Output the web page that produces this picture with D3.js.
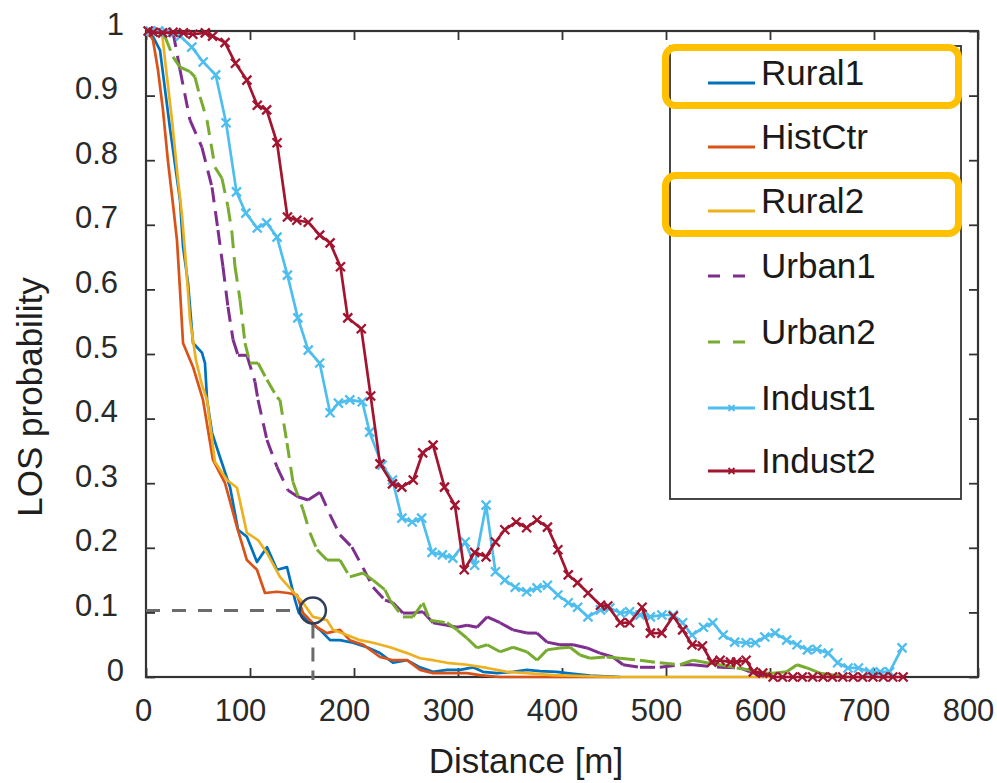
<!DOCTYPE html>
<html>
<head>
<meta charset="utf-8">
<script src="https://cdn.jsdelivr.net/npm/d3@7"></script>
<style>
  html,body{margin:0;padding:0;background:#fff;}
  svg{display:block;}
  text{font-family:"Liberation Sans", Arial, sans-serif;}
</style>
</head>
<body>
<script>
// ---------- DATA ----------
const xTicks = [0,100,200,300,400,500,600,700,800];
const xTickLabels = ["0","100","200","300","400","500","600","700","800"];
const yTicks = [0,0.1,0.2,0.3,0.4,0.5,0.6,0.7,0.8,0.9,1];
const yTickLabels = ["0","0.1","0.2","0.3","0.4","0.5","0.6","0.7","0.8","0.9","1"];
const seriesNames = ["Rural1","HistCtr","Rural2","Urban1","Urban2","Indust1","Indust2"];

const rural1 = [[0,1],[4,1],[13.5,0.97],[23,0.85],[32.7,0.738],[35.6,0.666],[40.4,0.61],[45.2,0.517],[53.8,0.502],[56.7,0.486],[58.7,0.429],[63.5,0.378],[71,0.341],[80.8,0.294],[88.5,0.228],[97,0.217],[106.7,0.178],[116.3,0.201],[126,0.166],[135.6,0.17],[143.3,0.119],[147,0.099],[157.7,0.085],[167.3,0.073],[177,0.057],[186.5,0.057],[199,0.053],[212.5,0.046],[225,0.037],[237.5,0.022],[251,0.026],[263.5,0.015],[276,0.008],[289.4,0.011],[302,0.011],[314.4,0.015],[324,0.008],[337.5,0.006],[353,0.008],[366.3,0.011],[378.8,0.009],[395,0.008],[404.8,0.006],[427,0.002],[456,0]];

const histCtr = [[0,1],[1.9,1],[6.7,0.986],[11.5,0.94],[16.3,0.878],[21,0.8],[26,0.731],[29.8,0.676],[32.7,0.599],[35.6,0.517],[45.2,0.48],[54.8,0.429],[64.4,0.336],[76,0.3],[87.5,0.232],[97,0.181],[106.7,0.166],[114.4,0.13],[126,0.132],[136.5,0.13],[145.2,0.127],[151,0.099],[164.4,0.077],[174,0.068],[186.5,0.073],[196,0.057],[208.7,0.05],[225,0.031],[237.5,0.026],[251,0.026],[263.5,0.011],[276,0.006],[289.4,0.006],[308.7,0.006],[321,0.003],[340,0],[451,0]];

const rural2 = [[0,1],[8.7,1],[15.4,0.997],[18.3,0.955],[25,0.862],[30.8,0.769],[34.6,0.715],[38.5,0.638],[42.3,0.553],[48,0.491],[53.8,0.452],[58.7,0.429],[66.3,0.333],[77.9,0.305],[87.5,0.293],[97,0.223],[107.7,0.212],[116.3,0.192],[128.8,0.155],[141.3,0.132],[151,0.115],[160.6,0.093],[174,0.088],[179.8,0.073],[193.3,0.065],[205.8,0.057],[218.3,0.053],[234.6,0.046],[251,0.037],[263.5,0.029],[276,0.026],[289.4,0.022],[308.7,0.019],[328,0.014],[347,0.008],[366,0.006],[391,0.003],[449,0],[600,0]];

const urban1 = [[0,1],[3.8,1],[26,0.998],[32.7,0.94],[42.3,0.862],[53.8,0.82],[63.5,0.758],[69.2,0.692],[74,0.635],[78.8,0.573],[83.7,0.522],[88.5,0.498],[97,0.498],[104.8,0.457],[107.7,0.429],[116.3,0.367],[126,0.325],[136.5,0.289],[146,0.279],[155.8,0.274],[167.3,0.286],[177,0.251],[186.5,0.22],[198,0.201],[208.7,0.169],[218.3,0.139],[229.8,0.119],[237.5,0.115],[247,0.099],[256.7,0.099],[266.3,0.101],[276,0.084],[289.4,0.08],[299,0.077],[308.7,0.08],[318.3,0.077],[328,0.093],[340.4,0.084],[352.9,0.073],[366.3,0.068],[376,0.068],[385.6,0.054],[398,0.05],[410.6,0.05],[424,0.045],[436.5,0.037],[449,0.031],[458.7,0.019],[475,0.015],[494,0.015],[513.5,0.019],[526,0.019],[552,0.015],[571,0.014],[580.8,0.008],[597,0]];

const urban2 = [[0,1],[3.8,1],[10.6,0.998],[18.3,0.991],[26,0.96],[32.7,0.944],[42.3,0.937],[47,0.929],[52,0.898],[58.7,0.862],[66.3,0.789],[73,0.772],[78.8,0.728],[82.7,0.687],[85.6,0.635],[90.4,0.584],[95.2,0.517],[100,0.486],[107.7,0.486],[116.3,0.46],[126,0.433],[128.8,0.429],[135.6,0.362],[141.3,0.302],[151,0.259],[157.7,0.223],[164.4,0.197],[174,0.181],[186.5,0.181],[196,0.155],[208.7,0.161],[218.3,0.15],[229.8,0.135],[234.6,0.119],[247,0.093],[256.7,0.093],[266.3,0.115],[273,0.088],[289.4,0.084],[299,0.073],[308.7,0.06],[318.3,0.045],[328,0.05],[340.4,0.039],[352.9,0.046],[366.3,0.039],[376,0.026],[385.6,0.042],[398,0.045],[407.7,0.046],[417.3,0.034],[427,0.029],[443,0.031],[455.8,0.029],[475,0.026],[494,0.022],[513.5,0.019],[526,0.026],[539.4,0.022],[552,0.019],[568,0.014],[580.8,0.011],[593,0.006],[603,0.006],[616,0.008],[626,0.019],[635.6,0.014],[648,0.006],[660.6,0.003],[674,0]];

const indust1 = [[4,1],[12,1],[20,0.998],[33,0.992],[44,0.975],[55,0.952],[67,0.932],[77,0.858],[87,0.751],[96,0.718],[107,0.695],[116,0.703],[126,0.681],[136,0.622],[146,0.556],[156,0.506],[167,0.486],[177,0.409],[185,0.424],[196,0.429],[208,0.426],[215,0.379],[227,0.328],[237,0.305],[246,0.246],[256,0.24],[265,0.246],[275,0.193],[285,0.189],[295,0.184],[307,0.209],[316,0.173],[327,0.266],[336,0.163],[345,0.15],[355,0.139],[366,0.132],[376,0.138],[386,0.142],[396,0.127],[406,0.115],[415,0.108],[425,0.093],[437,0.104],[446,0.107],[456,0.099],[465,0.101],[475,0.096],[485,0.093],[496,0.096],[507,0.096],[516,0.084],[525,0.065],[536,0.077],[545,0.084],[555,0.065],[566,0.054],[577,0.053],[586,0.053],[595,0.062],[605,0.068],[616,0.057],[626,0.05],[636,0.042],[645,0.043],[656,0.037],[665,0.022],[675,0.014],[685,0.014],[696,0.008],[706,0.008],[715,0.008],[727,0.045]];

const indust2 = [[2,1],[7,0.998],[16,0.997],[26,0.998],[36,0.997],[45,0.995],[57,0.997],[64,0.992],[76,0.982],[86,0.95],[97,0.924],[107,0.885],[116,0.878],[126,0.827],[136,0.712],[145,0.707],[156,0.704],[167,0.684],[177,0.672],[187,0.635],[194,0.556],[207,0.539],[216,0.435],[225,0.33],[237,0.299],[246,0.294],[257,0.305],[266,0.347],[276,0.359],[287,0.294],[297,0.266],[306,0.166],[316,0.193],[327,0.186],[336,0.209],[345,0.228],[356,0.24],[366,0.231],[376,0.243],[386,0.232],[396,0.197],[406,0.158],[415,0.146],[425,0.13],[437,0.111],[444,0.11],[456,0.084],[465,0.084],[477,0.108],[485,0.068],[496,0.068],[507,0.094],[516,0.073],[525,0.05],[535,0.048],[544,0.023],[552,0.026],[562,0.023],[568,0.023],[577,0.026],[584,0.008],[593,0.006],[603,0],[612,0],[622,0],[631,0],[641,0],[651,0],[660,0],[670,0],[680,0],[689,0],[699,0],[709,0],[718,0],[728,0]];

const seriesData = [rural1, histCtr, rural2, urban1, urban2, indust1, indust2];
const seriesColors = ["#0072BD","#D95319","#EDB120","#7E2F8E","#77AC30","#4DBEEE","#A2142F"];
const seriesStyle = ["solid","solid","solid","dash","dash","xmark","xmark"];

// annotation point (distance, probability)
const markDistance = 160.5;
const markProb = 0.103;

// ---------- CHART ----------
const W = 997, H = 783;
const svg = d3.select("body").append("svg").attr("width", W).attr("height", H);

const x = d3.scaleLinear().domain([0, 800]).range([146, 978]);
const y = d3.scaleLinear().domain([0, 1]).range([677, 31]);

const axisColor = "#333";
const tickFont = 31;

// Axes (ticks inward)
const gx = svg.append("g").attr("transform", `translate(0,${y(0)})`)
  .call(d3.axisBottom(x).tickValues(xTicks).tickFormat((d,i)=>xTickLabels[i]).tickSizeInner(-9).tickSizeOuter(0).tickPadding(22));
gx.select(".domain").remove();
gx.selectAll(".tick line").attr("stroke", axisColor).attr("stroke-width", 1.8);
gx.selectAll(".tick text").attr("font-size", tickFont).attr("fill", "#2a2a2a")
  .attr("dy", "0.71em").attr("dx", d => d === 0 ? -3 : -10);

const gxt = svg.append("g").attr("transform", `translate(0,${y(1)})`)
  .call(d3.axisTop(x).tickValues(xTicks).tickFormat("").tickSizeInner(-9).tickSizeOuter(0));
gxt.select(".domain").remove();
gxt.selectAll(".tick line").attr("stroke", axisColor).attr("stroke-width", 1.8);

const gy = svg.append("g").attr("transform", `translate(${x(0)},0)`)
  .call(d3.axisLeft(y).tickValues(yTicks).tickFormat((d,i)=>yTickLabels[i]).tickSizeInner(-9).tickSizeOuter(0).tickPadding(28));
gy.select(".domain").remove();
gy.selectAll(".tick line").attr("stroke", axisColor).attr("stroke-width", 1.8);
gy.selectAll(".tick text").attr("font-size", tickFont).attr("fill", "#2a2a2a")
  .attr("dy", 3).attr("dx", (d,i) => yTickLabels[i].length === 1 ? 6 : 0)
  .attr("dominant-baseline", "auto");

const gyr = svg.append("g").attr("transform", `translate(${x(800)},0)`)
  .call(d3.axisRight(y).tickValues(yTicks).tickFormat("").tickSizeInner(-9).tickSizeOuter(0));
gyr.select(".domain").remove();
gyr.selectAll(".tick line").attr("stroke", axisColor).attr("stroke-width", 1.8);

// frame
svg.append("rect").attr("x", x(0)).attr("y", y(1))
  .attr("width", x(800) - x(0)).attr("height", y(0) - y(1))
  .attr("fill", "none").attr("stroke", axisColor).attr("stroke-width", 2.2);

// axis titles
svg.append("text").attr("x", 526).attr("y", 773).attr("text-anchor", "middle")
  .attr("font-size", 35).attr("fill", "#1f1f1f").text("Distance [m]");
svg.append("text").attr("transform", "translate(42,397) rotate(-90)")
  .attr("text-anchor", "middle").attr("font-size", 35).attr("fill", "#1f1f1f").text("LOS probability");

// series
const line = d3.line().x(d => x(d[0])).y(d => y(d[1]));
const xPath = s => `M${-s},${-s}L${s},${s}M${-s},${s}L${s},${-s}`;

const plot = svg.append("g");
seriesData.forEach((data, i) => {
  const col = seriesColors[i];
  const st = seriesStyle[i];
  const g = plot.append("g");
  if (st === "dash") {
    // dash pattern restarts at each vertex (as in the source rendering)
    for (let k = 0; k < data.length - 1; k++) {
      g.append("path").attr("d", line([data[k], data[k+1]]))
        .attr("fill", "none").attr("stroke", col).attr("stroke-width", 3)
        .attr("stroke-dasharray", "15,9");
    }
  } else {
    g.append("path").attr("d", line(data)).attr("fill", "none")
      .attr("stroke", col).attr("stroke-width", 2.7).attr("stroke-linejoin", "round");
  }
  if (st === "xmark") {
    g.selectAll("path.m").data(data).enter().append("path").attr("class", "m")
      .attr("transform", d => `translate(${x(d[0])},${y(d[1])})`)
      .attr("d", xPath(4.5)).attr("stroke", col).attr("stroke-width", 2.3).attr("fill", "none");
  }
});

// annotation: dashed guide lines and circle
const guideCol = "#6b6b6b";
svg.append("path")
  .attr("d", `M${x(0)},${y(markProb)}L${x(markDistance) - 14},${y(markProb)}`)
  .attr("stroke", guideCol).attr("stroke-width", 3).attr("stroke-dasharray", "14,12").attr("fill", "none");
svg.append("path")
  .attr("d", `M${x(markDistance)},${y(markProb) + 14}L${x(markDistance)},${y(0) + 3}`)
  .attr("stroke", guideCol).attr("stroke-width", 3).attr("stroke-dasharray", "14,9").attr("fill", "none");
svg.append("circle").attr("cx", x(markDistance)).attr("cy", y(markProb)).attr("r", 13)
  .attr("fill", "none").attr("stroke", "#2F3E5A").attr("stroke-width", 2.5);

// legend
const lg = svg.append("g");
lg.append("rect").attr("x", 670).attr("y", 46).attr("width", 291).attr("height", 453)
  .attr("fill", "#fff").attr("stroke", axisColor).attr("stroke-width", 1.8);
const legendBase = [85, 149, 213, 278, 344, 410, 473];
seriesNames.forEach((name, i) => {
  const by = legendBase[i];
  const ly = by - 2;
  const col = seriesColors[i];
  const st = seriesStyle[i];
  if (st === "dash") {
    lg.append("line").attr("x1", 708).attr("x2", 746).attr("y1", ly).attr("y2", ly)
      .attr("stroke", col).attr("stroke-width", 2.8).attr("stroke-dasharray", "12,13");
  } else {
    lg.append("line").attr("x1", 708).attr("x2", 755).attr("y1", ly).attr("y2", ly)
      .attr("stroke", col).attr("stroke-width", 2.8);
  }
  if (st === "xmark") {
    lg.append("path").attr("transform", `translate(731.5,${ly})`).attr("d", xPath(3))
      .attr("stroke", col).attr("stroke-width", 1.8);
  }
  lg.append("text").attr("x", 761).attr("y", by).attr("font-size", 35)
    .attr("fill", "#1a1a1a").text(name);
});

// highlight boxes around Rural1 and Rural2
[0, 2].forEach(i => {
  const by = legendBase[i];
  lg.append("rect").attr("x", 665.5).attr("y", by - 37.5).attr("width", 293).attr("height", 58)
    .attr("rx", 10).attr("ry", 10).attr("fill", "none")
    .attr("stroke", "#FFC000").attr("stroke-width", 7);
});
</script>
</body>
</html>
